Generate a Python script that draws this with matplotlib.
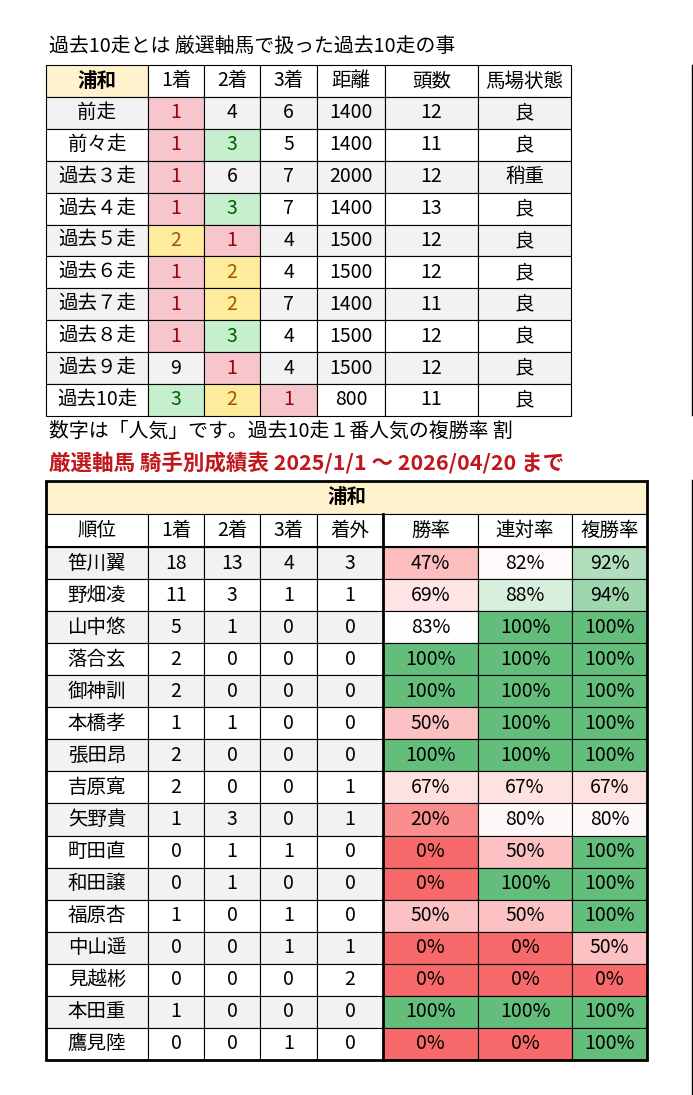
import numpy as np
import matplotlib.pyplot as plt
from matplotlib.patches import Rectangle

plt.rcParams['font.family'] = ['Noto Sans CJK JP', 'DejaVu Sans']

# 上の表: 過去10走
top_cols = ['浦和', '1着', '2着', '3着', '距離', '頭数', '馬場状態']
top_rows = ['前走', '前々走', '過去３走', '過去４走', '過去５走', '過去６走',
            '過去７走', '過去８走', '過去９走', '過去10走']
first = [1, 1, 1, 1, 2, 1, 1, 1, 9, 3]
second = [4, 3, 6, 3, 1, 2, 2, 3, 1, 2]
third = [6, 5, 7, 7, 4, 4, 7, 4, 4, 1]
distance = [1400, 1400, 2000, 1400, 1500, 1500, 1400, 1500, 1500, 800]
heads = [12, 11, 12, 13, 12, 12, 11, 12, 12, 11]
track = ['良', '良', '稍重', '良', '良', '良', '良', '良', '良', '良']

# 下の表: 騎手別成績
jockeys = ['笹川翼', '野畑凌', '山中悠', '落合玄', '御神訓', '本橋孝', '張田昂', '吉原寛',
           '矢野貴', '町田直', '和田譲', '福原杏', '中山遥', '見越彬', '本田重', '鷹見陸']
j1 = [18, 11, 5, 2, 2, 1, 2, 2, 1, 0, 0, 1, 0, 0, 1, 0]
j2 = [13, 3, 1, 0, 0, 1, 0, 0, 3, 1, 1, 0, 0, 0, 0, 0]
j3 = [4, 1, 0, 0, 0, 0, 0, 0, 0, 1, 0, 1, 1, 0, 0, 1]
jout = [3, 1, 0, 0, 0, 0, 0, 1, 1, 0, 0, 0, 1, 2, 0, 0]
win = [47, 69, 83, 100, 100, 50, 100, 67, 20, 0, 0, 50, 0, 0, 100, 0]
quinella = [82, 88, 100, 100, 100, 100, 100, 67, 80, 50, 100, 50, 0, 0, 100, 0]
show = [92, 94, 100, 100, 100, 100, 100, 67, 80, 100, 100, 100, 50, 0, 100, 100]
bottom_cols = ['順位', '1着', '2着', '3着', '着外', '勝率', '連対率', '複勝率']

fig = plt.figure(figsize=(6.93, 10.95), dpi=100)
ax = fig.add_axes([0, 0, 1, 1])
ax.set_xlim(0, 693)
ax.set_ylim(1095, 0)
ax.axis('off')

PINK, PINK_T = '#f7c6cc', '#9c0006'
GREEN, GREEN_T = '#c6efce', '#006100'
YELLOW, YELLOW_T = '#ffeb9c', '#9c5700'
GREY = '#f2f2f2'
FS = 14


def cell(x0, x1, y0, y1, text, fc='white', color='black', size=FS, weight='normal', lw=0.8):
    ax.add_patch(Rectangle((x0, y0), x1 - x0, y1 - y0, facecolor=fc, edgecolor='black', lw=lw))
    ax.text((x0 + x1) / 2, (y0 + y1) / 2, text, ha='center', va='center',
            fontsize=size, color=color, weight=weight)


def place_style(v):
    if v == 1:
        return PINK, PINK_T
    if v == 2:
        return YELLOW, YELLOW_T
    if v == 3:
        return GREEN, GREEN_T
    return None


ax.text(49, 46, '過去10走とは 厳選軸馬で扱った過去10走の事', fontsize=14.3, va='center')

tx = [46, 148, 204, 260, 317, 385, 478, 571]
ty0, th = 65, 31.9
for c, name in enumerate(top_cols):
    fc = '#fff2cc' if c == 0 else 'white'
    cell(tx[c], tx[c + 1], ty0, ty0 + th, name, fc=fc, weight='bold' if c == 0 else 'normal')
for r, name in enumerate(top_rows):
    y0 = ty0 + th * (r + 1)
    base = GREY if r % 2 == 0 else 'white'
    vals = [name, first[r], second[r], third[r], distance[r], heads[r], track[r]]
    for c, v in enumerate(vals):
        fc, col = base, 'black'
        if 1 <= c <= 3:
            st = place_style(v)
            if st:
                fc, col = st
        cell(tx[c], tx[c + 1], y0, y0 + th, str(v), fc=fc, color=col)

ax.text(49, 431, '数字は「人気」です。過去10走１番人気の複勝率 割', fontsize=14.3, va='center')
ax.text(49, 463, '厳選軸馬 騎手別成績表 2025/1/1 ～ 2026/04/20 まで', fontsize=15.5,
        va='center', color='#c0161c', weight='bold')


def rate_color(v, mid=84):
    red = np.array([248, 105, 107]) / 255
    white = np.array([1.0, 1.0, 1.0])
    green = np.array([99, 190, 123]) / 255
    if v <= mid:
        t = v / mid
        return tuple(red + (white - red) * t)
    t = (v - mid) / (100 - mid)
    return tuple(white + (green - white) * t)


bx = [46, 148, 204, 260, 317, 383, 478, 572, 647]
by0, bh = 481, 32.06
cell(bx[0], bx[-1], by0, by0 + 33, '浦和', fc='#fff2cc', weight='bold')
for c, name in enumerate(bottom_cols):
    cell(bx[c], bx[c + 1], by0 + 33, by0 + 66, name)
for r, name in enumerate(jockeys):
    y0 = by0 + 66 + bh * r
    base = GREY if r % 2 == 0 else 'white'
    vals = [name, j1[r], j2[r], j3[r], jout[r]]
    for c, v in enumerate(vals):
        cell(bx[c], bx[c + 1], y0, y0 + bh, str(v), fc=base)
    for k, v in enumerate([win[r], quinella[r], show[r]]):
        cell(bx[5 + k], bx[6 + k], y0, y0 + bh, f'{v}%', fc=rate_color(v))

# 太い枠線
yb = by0 + 66 + bh * len(jockeys)
ax.add_patch(Rectangle((bx[0], by0), bx[-1] - bx[0], yb - by0, fill=False, edgecolor='black', lw=2))
ax.plot([bx[5], bx[5]], [by0 + 33, yb], color='black', lw=2)
ax.plot([bx[0], bx[-1]], [by0 + 66, by0 + 66], color='black', lw=1.5)
ax.plot([692, 692], [65, 415], color='black', lw=1)
ax.plot([692, 692], [480, 1095], color='black', lw=1)

fig.savefig('out.png', dpi=100)
